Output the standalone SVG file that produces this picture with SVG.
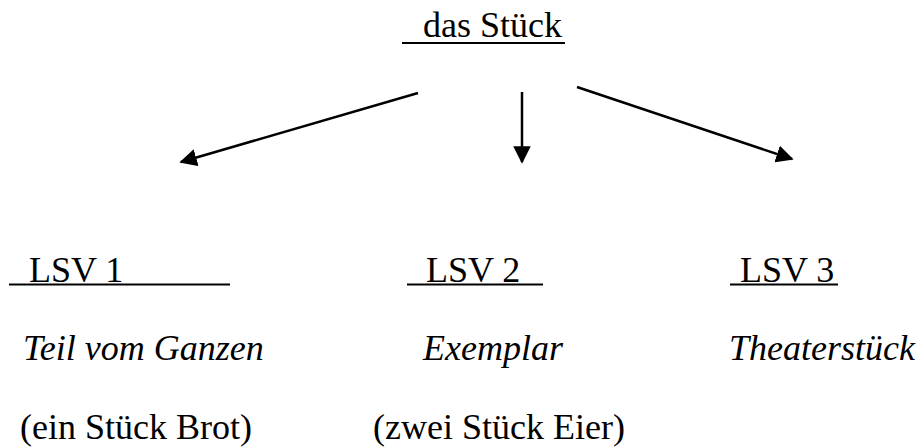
<svg xmlns="http://www.w3.org/2000/svg" width="921" height="447" viewBox="0 0 921 447">
  <style>
    .t { font-size: 36px; fill: #000; }
    .it { font-style: italic; }
    .ul { stroke: #000; stroke-width: 2.2; }
    .conn line { stroke: #000; stroke-width: 2.5; marker-end: url(#head); }
  </style>
  <defs>
    <marker id="head" viewBox="0 0 10 10" refX="9" refY="5" markerWidth="7" markerHeight="7" markerUnits="strokeWidth" orient="auto">
      <path d="M0,0 L10,5 L0,10 z" fill="#000"/>
    </marker>
  </defs>
  <rect width="921" height="447" fill="#fff"/>

  <g font-family="Liberation Serif, DejaVu Serif, serif">
    <g id="root">
      <text class="t" x="423" y="37">das Stück</text>
      <line class="ul" x1="402" y1="43" x2="565" y2="43"/>
    </g>

    <g id="lsv1">
      <text class="t" x="29" y="282">LSV 1</text>
      <line class="ul" x1="9" y1="284.5" x2="230" y2="284.5"/>
      <text class="t it" x="23" y="360">Teil vom Ganzen</text>
      <text class="t" x="20" y="439">(ein Stück Brot)</text>
    </g>

    <g id="lsv2">
      <text class="t" x="426" y="282">LSV 2</text>
      <line class="ul" x1="407" y1="284.5" x2="543" y2="284.5"/>
      <text class="t it" x="423" y="360">Exemplar</text>
      <text class="t" x="373" y="439">(zwei Stück Eier)</text>
    </g>

    <g id="lsv3">
      <text class="t" x="740" y="282">LSV 3</text>
      <line class="ul" x1="730" y1="284.5" x2="838" y2="284.5"/>
      <text class="t it" x="729" y="360">Theaterstück</text>
    </g>
  </g>

  <g class="conn" id="connectors">
    <line x1="418" y1="93" x2="181" y2="162"/>
    <line x1="522" y1="92" x2="522" y2="162"/>
    <line x1="577" y1="87" x2="792" y2="159"/>
  </g>
</svg>
